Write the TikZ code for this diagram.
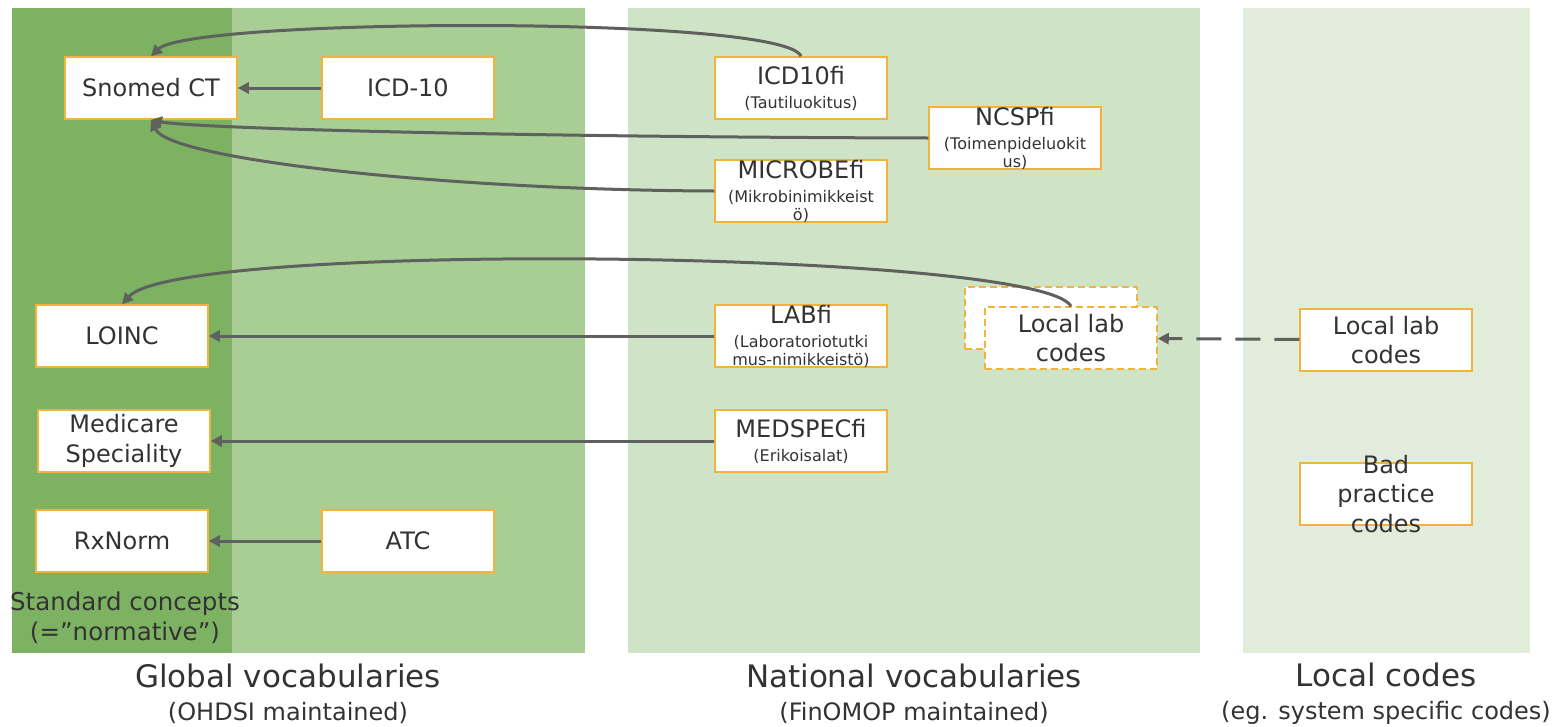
\documentclass[tikz,border=0pt]{standalone}
\usepackage{fontspec}
\setmainfont{DejaVu Sans}
\usetikzlibrary{arrows.meta}
\definecolor{darkg}{HTML}{7DB262}
\definecolor{midg}{HTML}{A8CD95}
\definecolor{natg}{HTML}{CFE4C6}
\definecolor{locg}{HTML}{E1EDDA}
\definecolor{boxo}{HTML}{F2B33D}
\definecolor{arr}{HTML}{5E615E}
\definecolor{txt}{HTML}{333333}
\newcommand{\bigf}{\fontsize{24}{25}\selectfont}
\newcommand{\smallf}{\fontsize{16}{18}\selectfont}
\tikzset{
  voc/.style={draw=boxo, line width=1.5pt, fill=white, minimum width=172pt,
    minimum height=62pt, inner sep=0pt, align=center, text=txt,
    font=\fontsize{24}{29.5}\selectfont},
  natvoc/.style={voc, font=\fontsize{24}{24}\selectfont},
  dashvoc/.style={voc, dash pattern=on 7pt off 4pt},
  conn/.style={draw=arr, line width=3pt, -{Triangle[length=11pt,width=11pt]}},
  lbl/.style={text=txt, align=center}
}
\begin{document}
\begin{tikzpicture}[x=1pt,y=-1pt]
\useasboundingbox (0,0) rectangle (1558,726);
% panels
\fill[darkg] (12,8) rectangle (232,653);
\fill[midg] (232,8) rectangle (585,653);
\fill[natg] (628,8) rectangle (1200,653);
\fill[locg] (1243,8) rectangle (1530,653);
% global
\node[voc] (snomed) at (151,88) {Snomed CT};
\node[voc] (icd) at (408,88) {ICD-10};
\node[voc] (loinc) at (122,336) {LOINC};
\node[voc] (medicare) at (124,441) {Medicare\\Speciality};
\node[voc] (rxnorm) at (122,541) {RxNorm};
\node[voc] (atc) at (408,541) {ATC};
% national
\node[natvoc] (icdfi) at (801,88) {\bigf ICD10fi\\\smallf (Tautiluokitus)};
\node[natvoc] (ncsp) at (1015,138) {\bigf NCSPfi\\\smallf (Toimenpideluokit\\[-6pt]\smallf us)};
\node[natvoc] (microbe) at (801,191) {\bigf MICROBEfi\\\smallf (Mikrobinimikkeist\\[-6pt]\smallf ö)};
\node[natvoc] (lab) at (801,336) {\bigf LABfi\\\smallf (Laboratoriotutki\\[-6pt]\smallf mus-nimikkeistö)};
\node[natvoc] (medspec) at (801,441) {\bigf MEDSPECfi\\\smallf (Erikoisalat)};
\node[dashvoc] (lback) at (1051,318) {};
\node[dashvoc] (lfront) at (1071,338) {Local lab\\codes};
% local
\node[voc] (llocal) at (1386,340) {Local lab\\codes};
\node[voc, inner ysep=-14pt] (bad) at (1386,494) {Bad\\practice\\codes};
% arrows
\draw[conn] (icd) -- (snomed);
\draw[conn] (icdfi.north) .. controls (785,15) and (190,18) .. (snomed.north);
\draw[conn] (ncsp.west) .. controls (500,137) and (190,128) .. (snomed.south);
\draw[conn] (microbe.west) .. controls (450,190) and (170,160) .. (snomed.south);
\draw[conn] (lfront.north) .. controls (1040,250) and (180,240) .. (loinc.north);
\draw[conn] (lab) -- (loinc);
\draw[conn] (medspec) -- (medicare);
\draw[conn] (atc) -- (rxnorm);
\draw[conn, dash pattern=on 25pt off 14pt] (llocal) -- (lfront);
% labels
\node[lbl, font=\fontsize{24.5}{30}\selectfont] (std) at (125,618) {Standard concepts\\(=”normative”)};
\node[lbl, font=\fontsize{31}{33}\selectfont] (glob) at (288,694) {Global vocabularies\\\fontsize{24}{33}\selectfont (OHDSI maintained)};
\node[lbl, font=\fontsize{31}{33}\selectfont] (nat) at (914,694) {National vocabularies\\\fontsize{24}{33}\selectfont (FinOMOP maintained)};
\node[lbl, font=\fontsize{31}{33}\selectfont] (loc) at (1386,694) {Local codes\\\fontsize{24}{33}\selectfont (eg. system specific codes)};
\end{tikzpicture}
\end{document}
